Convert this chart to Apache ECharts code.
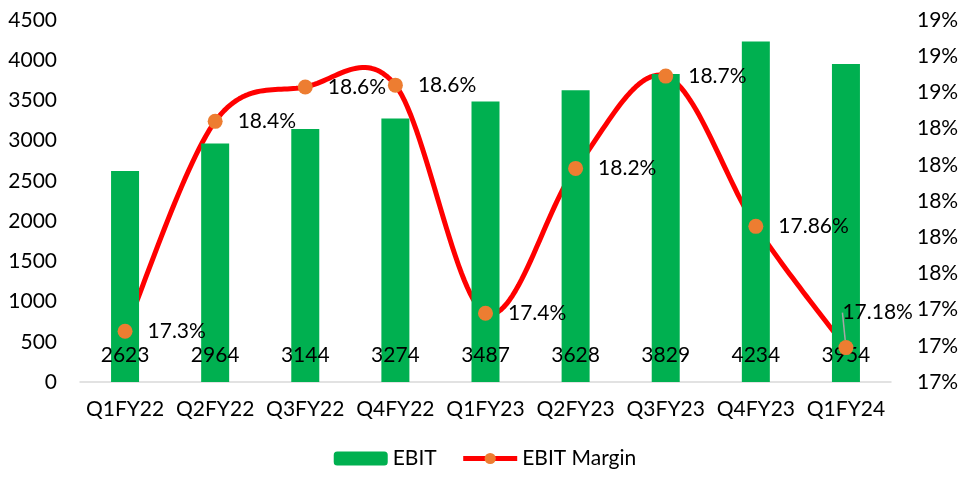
<!DOCTYPE html>
<html lang="en">
<head>
    <meta charset="UTF-8">
    <title>EBIT and EBIT Margin</title>
    <style>
        html, body { margin: 0; padding: 0; background: #fff; }
        #chartContainer { width: 970px; height: 479px; }
    </style>
    <script src="https://cdnjs.cloudflare.com/ajax/libs/echarts/6.0.0/echarts.min.js"></script>
</head>
<body>
    <div id="chartContainer"></div>
    <script>
        // quarters on the x axis
        const categories = ['Q1FY22', 'Q2FY22', 'Q3FY22', 'Q4FY22', 'Q1FY23', 'Q2FY23', 'Q3FY23', 'Q4FY23', 'Q1FY24'];
        // EBIT bars (left axis)
        const ebit = [2623, 2964, 3144, 3274, 3487, 3628, 3829, 4234, 3954];
        // EBIT margin in % (right axis), positions
        const margin = [17.28, 18.44, 18.63, 18.64, 17.38, 18.18, 18.69, 17.86, 17.19];
        // the labels printed next to each margin point
        const marginLabels = ['17.3%', '18.4%', '18.6%', '18.6%', '17.4%', '18.2%', '18.7%', '17.86%', '17.18%'];

        const font = 'Lato, "Open Sans", sans-serif';
        const fs = 21;
        const red = '#ff0000';
        const orange = '#ed7d31';

        var chartDom = document.getElementById('chartContainer');
        var myChart = echarts.init(chartDom);

        const marginData = margin.map((v, i) => {
            if (i === margin.length - 1) {
                return { value: v, labelLine: { show: true, lineStyle: { color: '#a6a6a6', width: 1.5 } } };
            }
            return v;
        });

        // excel style smoothed line (catmull-rom, 1/6 control points),
        // drawn once as a polyline through pixel points from api.coord
        function renderCurve(params, api) {
            if (params.dataIndex !== 0) return null;
            const n = margin.length;
            const pt = k => { k = Math.max(0, Math.min(n - 1, k)); return api.coord([k, margin[k]]); };
            const points = [];
            for (let i = 0; i < n - 1; i++) {
                const p0 = pt(i - 1), p1 = pt(i), p2 = pt(i + 1), p3 = pt(i + 2);
                const c1 = [p1[0] + (p2[0] - p0[0]) / 6, p1[1] + (p2[1] - p0[1]) / 6];
                const c2 = [p2[0] - (p3[0] - p1[0]) / 6, p2[1] - (p3[1] - p1[1]) / 6];
                const steps = 30;
                for (let s = (i === 0 ? 0 : 1); s <= steps; s++) {
                    const t = s / steps, u = 1 - t;
                    points.push([
                        u * u * u * p1[0] + 3 * u * u * t * c1[0] + 3 * u * t * t * c2[0] + t * t * t * p2[0],
                        u * u * u * p1[1] + 3 * u * u * t * c1[1] + 3 * u * t * t * c2[1] + t * t * t * p2[1]
                    ]);
                }
            }
            return {
                type: 'polyline',
                shape: { points: points },
                style: { stroke: red, lineWidth: 5, fill: null, lineJoin: 'round', lineCap: 'round' }
            };
        }

        const option = {
            animation: false,
            textStyle: { fontFamily: font },
            grid: { left: 80, right: 79, top: 20, bottom: 97 },
            legend: {
                bottom: 5,
                left: 'center',
                itemWidth: 54,
                itemHeight: 14,
                itemGap: 24,
                textStyle: { fontSize: fs, color: '#000', fontFamily: font },
                data: [
                    'EBIT',
                    { name: 'EBIT Margin', lineStyle: { color: red, width: 5, opacity: 1 } }
                ]
            },
            xAxis: {
                type: 'category',
                data: categories,
                axisLine: { lineStyle: { color: '#d9d9d9', width: 1.5 } },
                axisTick: { show: false },
                axisLabel: { color: '#000', fontSize: fs, margin: 17, interval: 0, fontFamily: font }
            },
            yAxis: [
                {
                    type: 'value',
                    min: 0,
                    max: 4500,
                    interval: 500,
                    splitLine: { show: false },
                    axisLine: { show: false },
                    axisTick: { show: false },
                    axisLabel: {
                        color: '#000', fontSize: fs, margin: 23, fontFamily: font,
                        formatter: v => String(v)
                    }
                },
                {
                    type: 'value',
                    min: 17,
                    max: 19,
                    interval: 0.2,
                    splitLine: { show: false },
                    axisLine: { show: false },
                    axisTick: { show: false },
                    axisLabel: {
                        color: '#000', fontSize: fs, margin: 26, fontFamily: font,
                        formatter: v => Math.round(v) + '%'
                    }
                }
            ],
            series: [
                {
                    name: 'EBIT',
                    type: 'bar',
                    data: ebit,
                    barWidth: 28,
                    itemStyle: { color: '#00b050' },
                    label: {
                        show: true,
                        position: 'insideBottom',
                        distance: 16,
                        color: '#000',
                        fontSize: fs,
                        fontFamily: font
                    }
                },
                {
                    name: 'margin curve',
                    type: 'custom',
                    yAxisIndex: 1,
                    data: margin.map((v, i) => [i, v]),
                    encode: { x: 0, y: 1 },
                    renderItem: renderCurve,
                    silent: true
                },
                {
                    name: 'EBIT Margin',
                    type: 'line',
                    yAxisIndex: 1,
                    data: marginData,
                    symbol: 'circle',
                    symbolSize: 15,
                    lineStyle: { color: red, width: 5, opacity: 0 },
                    itemStyle: { color: orange },
                    label: {
                        show: true,
                        position: 'right',
                        distance: 15,
                        color: '#000',
                        fontSize: fs,
                        fontFamily: font,
                        formatter: p => marginLabels[p.dataIndex]
                    },
                    labelLayout: function (params) {
                        if (params.dataIndex === margin.length - 1) {
                            return { dx: -26, dy: -35 };
                        }
                        return {};
                    }
                }
            ]
        };

        myChart.setOption(option);
    </script>
</body>
</html>
